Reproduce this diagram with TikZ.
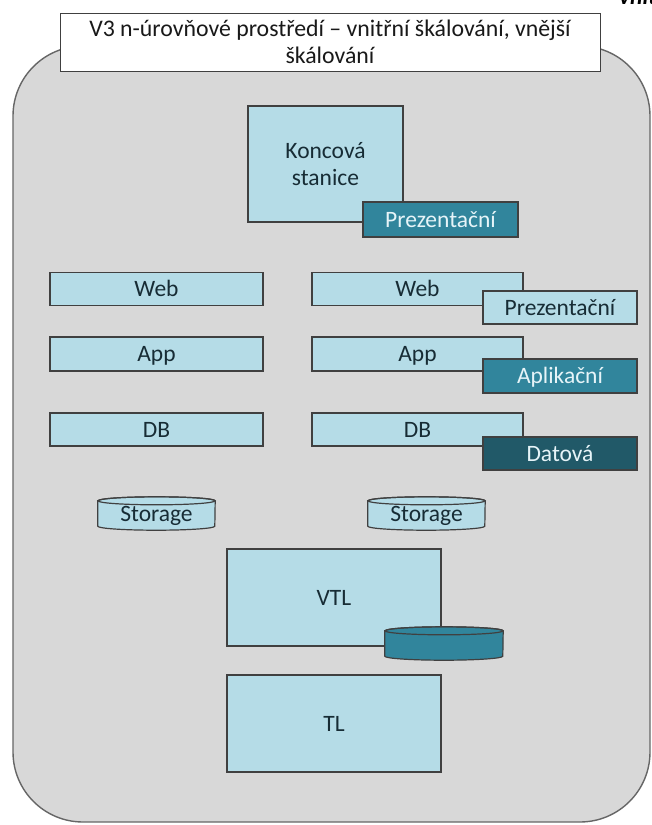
\documentclass[tikz,border=0pt]{standalone}
\usepackage{fontspec}
\setmainfont{Carlito}
\usetikzlibrary{calc}

\definecolor{panelgray}{HTML}{D8D8D8}
\definecolor{panelline}{HTML}{666666}
\definecolor{aqualight}{HTML}{B5DCE7}
\definecolor{aquamid}{HTML}{31859C}
\definecolor{aquadark}{HTML}{215968}
\definecolor{boxline}{HTML}{404040}
\definecolor{labeltext}{HTML}{172C35}
\definecolor{tagtext}{HTML}{E6F4F8}

\pgfdeclarelayer{background}
\pgfsetlayers{background,main}

% cylinder drawn round a node: name, fill, half width, ellipse radius
\newcommand{\cylbody}[4]{%
  \path[draw=boxline,line width=1.2pt,fill=#2]
    ($(#1.north west)+(0,#4)$) -- ($(#1.south west)-(0,#4)$)
    arc[start angle=180,end angle=360,x radius=#3pt,y radius=#4pt]
    -- ($(#1.north east)+(0,#4)$)
    arc[start angle=0,end angle=180,x radius=#3pt,y radius=#4pt] -- cycle;
  \draw[boxline,line width=1.2pt] ($(#1.north)+(0,#4)$) ellipse[x radius=#3pt,y radius=#4pt];
}

\begin{document}
\begin{tikzpicture}[x=1pt,y=-1pt,
  every node/.style={inner sep=0pt,font=\fontsize{23.5}{27}\selectfont},
  caps/.style={text height=15pt,text depth=0pt},
  tier/.style={draw=boxline,line width=1.2pt,fill=aqualight,text=labeltext},
  tagmid/.style={tier,fill=aquamid,text=tagtext},
  tagdeep/.style={tier,fill=aquadark,text=tagtext}]
\useasboundingbox (0,0) rectangle (652,825);
\clip (0,0) rectangle (652,825);
\begin{pgfonlayer}{background}
\draw[draw=panelline,fill=panelgray,line width=1.4pt,rounded corners=70pt] (13,46) rectangle (650,822);
\end{pgfonlayer}

% title
\node[draw=boxline,fill=white,line width=1pt,minimum width=540,minimum height=58,
  align=center,text=black!90,font=\fontsize{23.8}{27}\selectfont] (title) at (330,42)
  {V3 n-úrovňové prostředí – vnitřní škálování, vnější\\škálování};
\node[anchor=base west,font=\fontsize{23.5}{27}\selectfont\itshape\bfseries] (cut) at (619,4) {vnit};

% end station
\node[tier,align=center,minimum width=155,minimum height=116] (station) at (325.5,164) {Koncová\\stanice};
\node[tagmid,caps,minimum width=155,minimum height=35] (prez1) at (440.5,219.5) {Prezentační};

% left column
\node[tier,caps,minimum width=213,minimum height=33] (web1) at (156.5,289) {Web};
\node[tier,caps,minimum width=213,minimum height=34] (app1) at (156.5,354) {App};
\node[tier,caps,minimum width=213,minimum height=33] (db1) at (156.5,429.5) {DB};

% right column
\node[tier,caps,minimum width=211,minimum height=33] (web2) at (417.5,289) {Web};
\node[tier,caps,minimum width=154,minimum height=33] (prez2) at (560,307.5) {Prezentační};
\node[tier,caps,minimum width=211,minimum height=34] (app2) at (417.5,354) {App};
\node[tagmid,caps,minimum width=154,minimum height=34] (apl) at (560,376) {Aplikační};
\node[tier,caps,minimum width=211,minimum height=33] (db2) at (417.5,429.5) {DB};
\node[tagdeep,caps,minimum width=154,minimum height=33] (dat) at (560,453.5) {Datová};

% storage
\node[caps,text=labeltext,minimum width=117,minimum height=33] (stor1) at (156.5,513.5) {Storage};
\node[caps,text=labeltext,minimum width=117,minimum height=33] (stor2) at (426.5,513.5) {Storage};
\begin{pgfonlayer}{background}
\cylbody{stor1}{aqualight}{58.5}{4}
\cylbody{stor2}{aqualight}{58.5}{4}
\end{pgfonlayer}

% libraries
\node[tier,caps,minimum width=214,minimum height=97] (vtl) at (334,597.5) {VTL};
\node[minimum width=118,minimum height=33] (disk) at (444,643.5) {};
\cylbody{disk}{aquamid}{59}{4}
\node[tier,caps,minimum width=214,minimum height=97] (tl) at (334,723.5) {TL};
\end{tikzpicture}
\end{document}
